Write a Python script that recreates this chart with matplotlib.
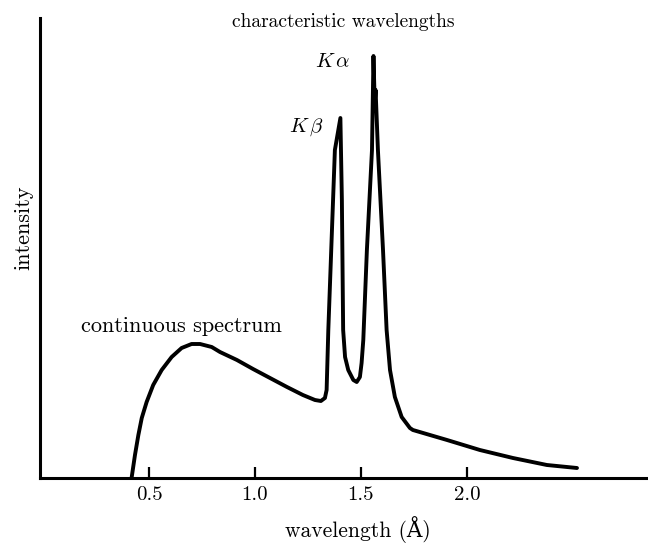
import matplotlib.pyplot as plt

plt.rcParams['font.family'] = ['cmr10', 'DejaVu Serif']
plt.rcParams['mathtext.fontset'] = 'cm'
plt.rcParams['axes.formatter.use_mathtext'] = True

# wavelength (angstrom) and intensity (arbitrary units)
wavelength = [0.418, 0.434, 0.450, 0.466, 0.489, 0.520, 0.560, 0.607, 0.654,
              0.701, 0.741, 0.796, 0.835, 0.915, 0.991, 1.071, 1.151, 1.226,
              1.283, 1.311, 1.330, 1.338, 1.346, 1.377, 1.403, 1.410, 1.416,
              1.425, 1.440, 1.464, 1.480, 1.495, 1.503, 1.511, 1.528, 1.552,
              1.559, 1.565, 1.569, 1.580, 1.604, 1.621, 1.637, 1.660, 1.692,
              1.731, 1.745, 1.906, 2.061, 2.217, 2.377, 2.519]
intensity = [0.00, 0.23, 0.43, 0.60, 0.76, 0.93, 1.08, 1.21, 1.30,
             1.34, 1.34, 1.31, 1.26, 1.18, 1.09, 1.00, 0.91, 0.83,
             0.78, 0.77, 0.80, 0.88, 1.48, 3.28, 3.60, 2.78, 1.48,
             1.21, 1.08, 0.98, 0.96, 1.01, 1.15, 1.38, 2.28, 3.28,
             4.22, 3.75, 3.88, 3.28, 2.28, 1.48, 1.08, 0.81, 0.61,
             0.50, 0.48, 0.38, 0.28, 0.20, 0.13, 0.10]

xticks = [0.5, 1.0, 1.5, 2.0]
xtick_labels = ['0.5', '1.0', '1.5', '2.0']

fig = plt.figure(figsize=(6.48, 5.45), dpi=100)
ax = fig.add_axes([40 / 648, 67 / 545, 608 / 648, 460 / 545])

ax.plot(wavelength, intensity, color='black', lw=2.8,
        solid_joinstyle='round', solid_capstyle='round')

ax.set_xlim(-0.014, 2.854)
ax.set_ylim(0, 4.6)

for side in ['top', 'right']:
    ax.spines[side].set_visible(False)
ax.spines['left'].set_linewidth(2.2)
ax.spines['bottom'].set_linewidth(2.2)

ax.set_xticks(xticks)
ax.set_xticklabels(xtick_labels)
ax.set_yticks([])
ax.tick_params(axis='x', direction='in', length=8, width=1.6,
               labelsize=15, pad=6)

# labels placed in figure pixels as in the scan
fig.text(358 / 648, 1 - 530 / 545, 'wavelength (Å)', ha='center',
         va='center', fontsize=15.5)
fig.text(24 / 648, 1 - 228 / 545, 'intensity', rotation=90,
         ha='center', va='center', fontsize=16)
fig.text(343 / 648, 1 - 22 / 545, 'characteristic wavelengths',
         ha='center', va='center', fontsize=14)
fig.text(181 / 648, 1 - 326 / 545, 'continuous spectrum',
         ha='center', va='center', fontsize=16)
fig.text(333 / 648, 1 - 62 / 545, r'$K\,\alpha$',
         ha='center', va='center', fontsize=15)
fig.text(306 / 648, 1 - 127 / 545, r'$K\,\beta$',
         ha='center', va='center', fontsize=15)

fig.savefig('out.png', dpi=100)
